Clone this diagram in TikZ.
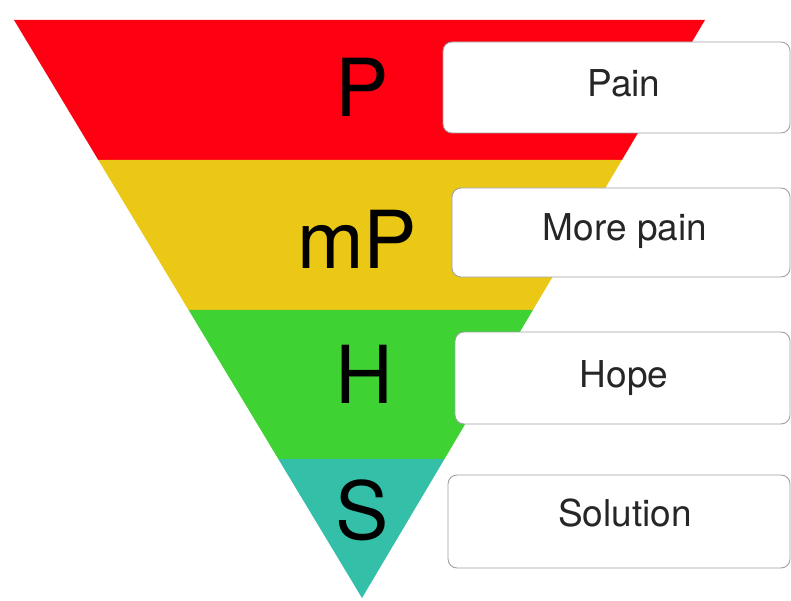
\documentclass[tikz,border=0pt]{standalone}
\usepackage{fontspec}
\setmainfont{TeX Gyre Heros}
\usetikzlibrary{calc}
\definecolor{bandred}{RGB}{254,0,18}
\definecolor{bandyellow}{RGB}{236,200,22}
\definecolor{bandgreen}{RGB}{62,210,50}
\definecolor{bandteal}{RGB}{52,192,168}
\definecolor{boxline}{RGB}{160,160,165}
\begin{document}
\begin{tikzpicture}[x=1pt,y=-1pt,
  letter/.style={font=\fontsize{80}{80}\selectfont, text=black, anchor=center},
  labelbox/.style={draw=boxline, line width=0.9pt, fill=white, rounded corners=9pt},
  labeltext/.style={font=\fontsize{37}{37}\selectfont, text=black!85, anchor=center}]
\useasboundingbox (0,0) rectangle (791,601);
\fill[white] (0,0) rectangle (791,601);
\coordinate (TL) at (14,20);
\coordinate (TR) at (705,20);
\coordinate (AP) at (362,598);
\coordinate (L1) at ($(TL)!0.2422!(AP)$);
\coordinate (R1) at ($(TR)!0.2422!(AP)$);
\coordinate (L2) at ($(TL)!0.5017!(AP)$);
\coordinate (R2) at ($(TR)!0.5017!(AP)$);
\coordinate (L3) at ($(TL)!0.7595!(AP)$);
\coordinate (R3) at ($(TR)!0.7595!(AP)$);
\fill[bandred] (TL) -- (TR) -- (R1) -- (L1) -- cycle;
\fill[bandyellow] (L1) -- (R1) -- (R2) -- (L2) -- cycle;
\fill[bandgreen] (L2) -- (R2) -- (R3) -- (L3) -- cycle;
\fill[bandteal] (L3) -- (R3) -- (AP) -- cycle;
\node[letter] (p) at (362,87) {P};
\node[letter] (mp) at (357,239) {mP};
\node[letter] (h) at (364,374) {H};
\node[letter] (s) at (362,510) {S};
\draw[labelbox] (443,42) rectangle (790,133);
\draw[labelbox] (452,188) rectangle (790,277);
\draw[labelbox] (455,332) rectangle (790,424);
\draw[labelbox] (448,475) rectangle (790,568);
\node[labeltext] (pain) at (624,83) {Pain};
\node[labeltext] (morepain) at (625,231) {More pain};
\node[labeltext] (hope) at (624,378) {Hope};
\node[labeltext] (solution) at (625,513) {Solution};
\end{tikzpicture}
\end{document}
